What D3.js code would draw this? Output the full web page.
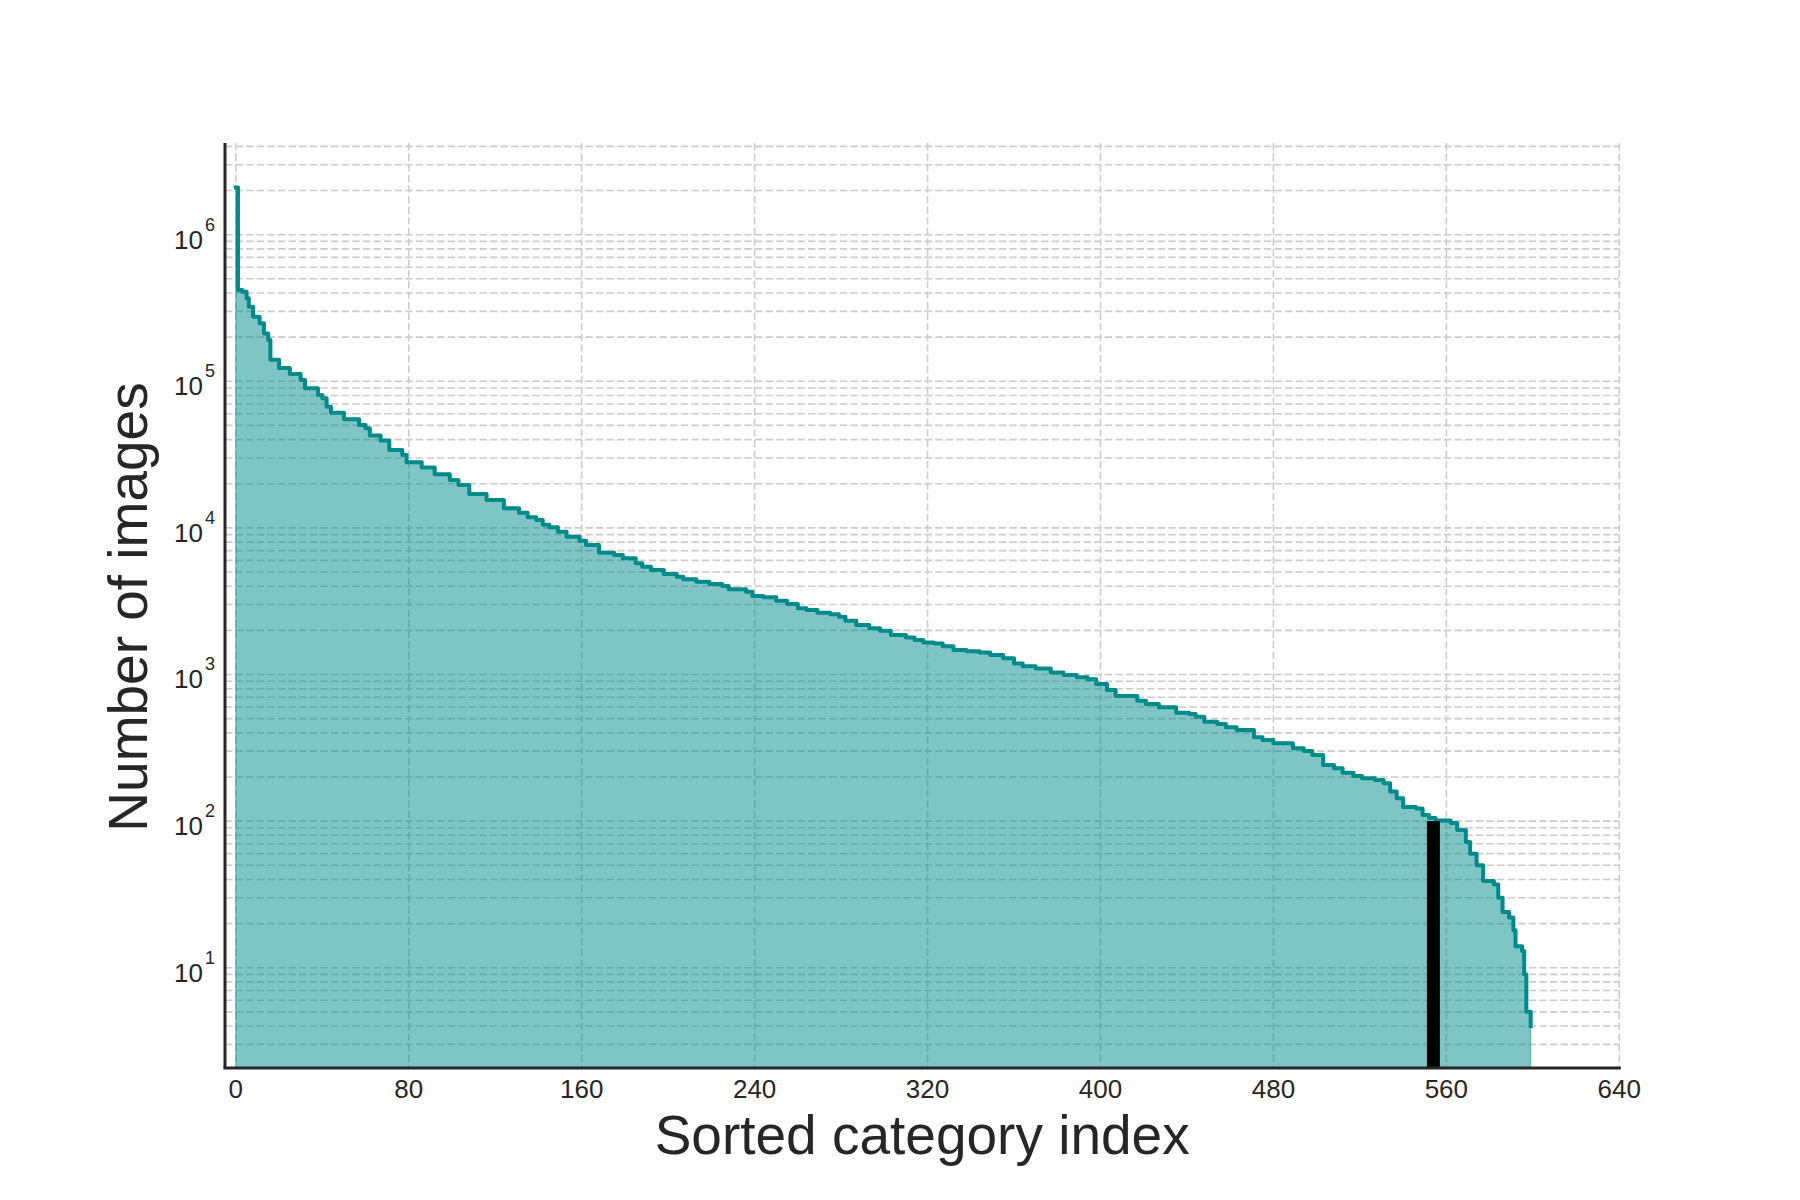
<!DOCTYPE html>
<html>
<head>
<meta charset="utf-8">
<script src="https://cdn.jsdelivr.net/npm/d3@7"></script>
<style>
  body { margin: 0; background: #fff; }
  text { font-family: "Liberation Sans", Arial, sans-serif; fill: #262626; }
</style>
</head>
<body>
<div id="chart"></div>
<script>
// Sorted category index (start of each step) and number of images
const categoryIndex = [
  0, 1, 3, 5, 6, 8, 11, 13, 15, 16, 20, 25, 30, 32, 38, 40, 42, 44, 50, 57,
  60, 62, 67, 71, 77, 79, 86, 92, 99, 103, 108, 116, 124, 131, 135, 139, 142, 145, 149, 153,
  159, 162, 168, 175, 179, 185, 188, 192, 198, 204, 207, 213, 219, 225, 228, 236, 239, 244, 250, 255,
  260, 264, 269, 275, 279, 282, 287, 293, 298, 303, 310, 314, 318, 323, 327, 332, 338, 344, 349, 355,
  360, 364, 370, 377, 383, 389, 394, 398, 403, 407, 417, 421, 427, 435, 441, 444, 448, 454, 458, 463,
  471, 475, 480, 489, 494, 498, 503, 508, 512, 517, 521, 527, 531, 534, 537, 540, 546, 549, 552, 555,
  562, 565, 569, 571, 574, 577, 582, 584, 586, 589, 591, 592, 595, 596, 597, 599
];
const imageCount = [
  2100000, 420000, 408000, 368000, 323000, 276000, 249000, 212000, 191000, 140000,
  123000, 112000, 102000, 89500, 80700, 76500, 67100, 61100, 55000, 50300,
  47800, 42600, 39400, 34000, 31400, 28000, 25800, 23200, 21200, 19600,
  17000, 15500, 13600, 12700, 11800, 11300, 10500, 10100, 9400, 8700,
  8180, 7640, 6770, 6530, 6200, 5730, 5440, 5160, 4850, 4650,
  4460, 4300, 4140, 4020, 3810, 3670, 3430, 3360, 3190, 3030,
  2830, 2750, 2640, 2580, 2480, 2330, 2180, 2070, 1990, 1860,
  1790, 1720, 1650, 1630, 1560, 1470, 1440, 1410, 1360, 1290,
  1190, 1140, 1100, 1030, 993, 957, 927, 861, 784, 713,
  663, 629, 597, 548, 538, 515, 476, 459, 436, 418,
  373, 357, 340, 314, 301, 282, 241, 229, 214, 203,
  196, 191, 181, 159, 143, 125, 122, 110, 105, 101,
  97, 87, 72, 60, 50, 39, 37, 30, 24, 22,
  18, 14, 13, 9, 5, 4
];

// Highlighted cut-off bar
const cutoffRange = [551, 557];
const cutoffCount = 100;

const xTickValues = [0, 80, 160, 240, 320, 400, 480, 560, 640];
const yMajorTicks = [1e1, 1e2, 1e3, 1e4, 1e5, 1e6];

const width = 1800, height = 1200;
const margin = { top: 143, right: 180.7, bottom: 132, left: 225 };
const innerW = width - margin.left - margin.right;
const innerH = height - margin.top - margin.bottom;

const lineColor = "#008b8b";

const svg = d3.select("#chart").append("svg")
  .attr("width", width)
  .attr("height", height)
  .style("background", "#fff");

const g = svg.append("g")
  .attr("transform", `translate(${margin.left},${margin.top})`);

const x = d3.scaleLinear()
  .domain([-5, 640])
  .range([0, innerW]);

const y = d3.scaleLog()
  .domain([2.07, 4.22e6])
  .range([innerH, 0]);

// Grid: vertical at x ticks, horizontal at all log ticks (major + minor)
const grid = g.append("g").attr("class", "grid")
  .attr("stroke", "#cccccc")
  .attr("stroke-width", 1.6)
  .attr("stroke-dasharray", "7.4,3.2");

grid.selectAll(".vgrid")
  .data(xTickValues)
  .enter().append("line")
  .attr("x1", d => x(d)).attr("x2", d => x(d))
  .attr("y1", 0).attr("y2", innerH);

grid.selectAll(".hgrid")
  .data(y.ticks())
  .enter().append("line")
  .attr("x1", 0).attr("x2", x(640))
  .attr("y1", d => y(d)).attr("y2", d => y(d));

const data = categoryIndex.map((c, i) => ({ c, v: imageCount[i] }));

// Filled area under the step curve
const area = d3.area()
  .curve(d3.curveStepAfter)
  .x(d => x(d.c))
  .y0(innerH)
  .y1(d => y(d.v));

g.append("path")
  .datum(data)
  .attr("d", area)
  .attr("fill", lineColor)
  .attr("fill-opacity", 0.5)
  .attr("stroke", lineColor)
  .attr("stroke-opacity", 0.5)
  .attr("stroke-width", 1);

// Step line
const line = d3.line()
  .curve(d3.curveStepAfter)
  .x(d => x(d.c))
  .y(d => y(d.v));

g.append("path")
  .datum(data)
  .attr("d", line)
  .attr("fill", "none")
  .attr("stroke", lineColor)
  .attr("stroke-width", 4)
  .attr("stroke-linejoin", "round")
  .attr("stroke-linecap", "square");

// Cut-off bar
g.append("rect")
  .attr("x", x(cutoffRange[0]))
  .attr("width", x(cutoffRange[1]) - x(cutoffRange[0]))
  .attr("y", y(cutoffCount))
  .attr("height", innerH - y(cutoffCount))
  .attr("fill", "#000");

// Spines (left and bottom only)
g.append("line")
  .attr("x1", 0).attr("x2", 0)
  .attr("y1", 0).attr("y2", innerH)
  .attr("stroke", "#262626").attr("stroke-width", 3);

g.append("line")
  .attr("x1", -1.5).attr("x2", innerW + 1.5)
  .attr("y1", innerH).attr("y2", innerH)
  .attr("stroke", "#262626").attr("stroke-width", 3);

// X tick labels
g.selectAll(".xtick")
  .data(xTickValues)
  .enter().append("text")
  .attr("class", "xtick")
  .attr("x", d => x(d))
  .attr("y", innerH + 30)
  .attr("text-anchor", "middle")
  .style("font-size", "26px")
  .text(d => d);

// Y tick labels as 10^n
const yLabels = g.selectAll(".ytick")
  .data(yMajorTicks)
  .enter().append("text")
  .attr("class", "ytick")
  .attr("x", -10)
  .attr("y", d => y(d) + 14)
  .attr("text-anchor", "end")
  .style("font-size", "26px");

yLabels.append("tspan").text("10");
yLabels.append("tspan")
  .attr("dx", 2)
  .attr("dy", -18)
  .style("font-size", "18px")
  .text(d => Math.round(Math.log10(d)));

// Axis labels
svg.append("text")
  .attr("x", margin.left + innerW / 2)
  .attr("y", 1154)
  .attr("text-anchor", "middle")
  .style("font-size", "55px")
  .text("Sorted category index");

svg.append("text")
  .attr("transform", `translate(147,607) rotate(-90)`)
  .attr("text-anchor", "middle")
  .style("font-size", "55px")
  .text("Number of images");
</script>
</body>
</html>
